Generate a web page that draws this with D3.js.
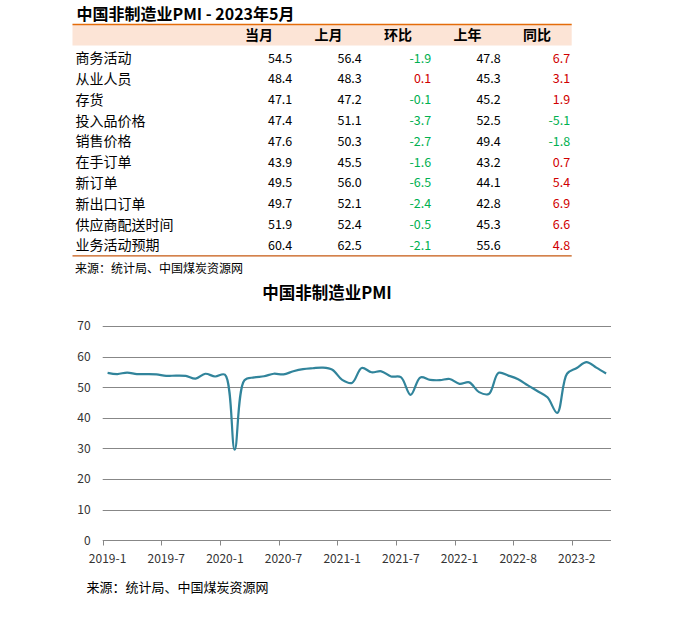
<!DOCTYPE html>
<html>
<head>
<meta charset="utf-8">
<script src="https://cdn.jsdelivr.net/npm/d3@7"></script>
<style>
  body { margin: 0; background: #fff; }
  svg { display: block; }
  text { font-family: "Noto Sans CJK SC", "Noto Sans", sans-serif; }
</style>
</head>
<body>
<svg id="chart"></svg>
<script>
// table data
const rowNames = ["商务活动","从业人员","存货","投入品价格","销售价格","在手订单","新订单","新出口订单","供应商配送时间","业务活动预期"];
const colHeaders = ["当月","上月","环比","上年","同比"];
const curMonth = [54.5,48.4,47.1,47.4,47.6,43.9,49.5,49.7,51.9,60.4];
const lastMonth = [56.4,48.3,47.2,51.1,50.3,45.5,56.0,52.1,52.4,62.5];
const momChange = [-1.9,0.1,-0.1,-3.7,-2.7,-1.6,-6.5,-2.4,-0.5,-2.1];
const lastYear = [47.8,45.3,45.2,52.5,49.4,43.2,44.1,42.8,45.3,55.6];
const yoyChange = [6.7,3.1,1.9,-5.1,-1.8,0.7,5.4,6.9,6.6,4.8];

// line chart data (2022-4 not in the series)
const months = [
  "2019-1","2019-2","2019-3","2019-4","2019-5","2019-6","2019-7","2019-8","2019-9","2019-10","2019-11","2019-12",
  "2020-1","2020-2","2020-3","2020-4","2020-5","2020-6","2020-7","2020-8","2020-9","2020-10","2020-11","2020-12",
  "2021-1","2021-2","2021-3","2021-4","2021-5","2021-6","2021-7","2021-8","2021-9","2021-10","2021-11","2021-12",
  "2022-1","2022-2","2022-3","2022-5","2022-6","2022-7","2022-8","2022-9","2022-10","2022-11","2022-12",
  "2023-1","2023-2","2023-3","2023-4","2023-5"
];
const pmiValues = [
  54.7,54.3,54.8,54.3,54.3,54.2,53.7,53.8,53.7,52.8,54.4,53.5,
  54.1,29.6,52.3,53.2,53.6,54.4,54.2,55.2,55.9,56.2,56.4,55.7,
  52.4,51.4,56.3,54.9,55.2,53.5,53.3,47.5,53.2,52.4,52.3,52.7,
  51.1,51.6,48.4,47.8,54.7,53.8,52.6,50.6,48.7,46.7,41.6,
  54.4,56.3,58.2,56.4,54.5
];
const yTicks = [0,10,20,30,40,50,60,70];

const W = 683, H = 634;
const svg = d3.select("#chart").attr("width", W).attr("height", H);

// ---------- table ----------
const tbl = { left: 72.5, right: 571.7, labelX: 75.5, colStart: 224.3 };

svg.append("text")
  .attr("x", 76.5).attr("y", 20)
  .attr("font-size", 16).attr("font-weight", "bold").attr("fill", "#000")
  .text("中国非制造业PMI - 2023年5月");

svg.append("rect")
  .attr("x", tbl.left).attr("y", 24.5)
  .attr("width", tbl.right - tbl.left).attr("height", 21)
  .attr("fill", "#FCE4D6");

svg.append("line")
  .attr("x1", tbl.left).attr("x2", tbl.right)
  .attr("y1", 24.5).attr("y2", 24.5)
  .attr("stroke", "#E46C0A").attr("stroke-width", 1.3);

const colX = d3.scaleBand().domain(colHeaders).range([tbl.colStart, tbl.right]);
const rowY = d3.scaleBand().domain(rowNames).range([47.9, 255.9]);

svg.append("g").selectAll("text")
  .data(colHeaders).join("text")
  .attr("x", d => colX(d) + colX.bandwidth() / 2)
  .attr("y", 35.5)
  .attr("dy", "0.35em")
  .attr("text-anchor", "middle")
  .attr("font-size", 14).attr("font-weight", "bold").attr("fill", "#000")
  .text(d => d);

svg.append("g").selectAll("text")
  .data(rowNames).join("text")
  .attr("x", tbl.labelX)
  .attr("y", d => rowY(d) + rowY.bandwidth() / 2)
  .attr("dy", "0.35em")
  .attr("font-size", 14).attr("fill", "#000")
  .text(d => d);

const cols = [curMonth, lastMonth, momChange, lastYear, yoyChange];
const signed = [false, false, true, false, true];
const cells = [];
cols.forEach((arr, c) => {
  arr.forEach((v, r) => cells.push({ col: colHeaders[c], row: rowNames[r], v: v, signed: signed[c] }));
});

svg.append("g").selectAll("text")
  .data(cells).join("text")
  .attr("x", d => colX(d.col) + colX.bandwidth() - 1.5)
  .attr("y", d => rowY(d.row) + rowY.bandwidth() / 2)
  .attr("dy", "0.35em")
  .attr("text-anchor", "end")
  .attr("font-family", "'Noto Sans', sans-serif")
  .attr("font-size", 12.5)
  .attr("fill", d => !d.signed ? "#000" : (d.v < 0 ? "#00B050" : "#D00000"))
  .text(d => d.v.toFixed(1));

svg.append("line")
  .attr("x1", tbl.left).attr("x2", tbl.right)
  .attr("y1", 255.9).attr("y2", 255.9)
  .attr("stroke", "#C65911").attr("stroke-width", 1.2);

svg.append("text")
  .attr("x", 75).attr("y", 268.5).attr("dy", "0.35em")
  .attr("font-size", 12).attr("fill", "#000")
  .text("来源：统计局、中国煤炭资源网");

// ---------- line chart ----------
svg.append("text")
  .attr("x", 327).attr("y", 293).attr("dy", "0.35em")
  .attr("text-anchor", "middle")
  .attr("font-size", 16.5).attr("font-weight", "bold").attr("fill", "#000")
  .text("中国非制造业PMI");

const plot = { left: 102.7, right: 611, top: 326, bottom: 540.3 };
const x = d3.scaleBand().domain(months).range([plot.left, plot.right]);
const y = d3.scaleLinear().domain([0, 70]).range([plot.bottom, plot.top]);

svg.append("g").selectAll("line")
  .data(yTicks.filter(t => t > 0)).join("line")
  .attr("x1", plot.left).attr("x2", plot.right)
  .attr("y1", d => Math.round(y(d)) + 0.5).attr("y2", d => Math.round(y(d)) + 0.5)
  .attr("stroke", "#878787").attr("stroke-width", 1);

const yAxis = svg.append("g")
  .attr("transform", `translate(${plot.left},0)`)
  .call(d3.axisLeft(y).tickValues(yTicks).tickSize(0).tickPadding(12));
yAxis.select(".domain").remove();
yAxis.selectAll("text")
  .attr("font-family", "'Noto Sans', sans-serif")
  .attr("font-size", 12).attr("fill", "#333");

// category axis: ticks every 6 categories, at boundaries
const tickIdx = d3.range(0, months.length, 6);
const xAxis = svg.append("g")
  .attr("transform", `translate(0,${Math.round(plot.bottom) + 0.5})`);
xAxis.append("line")
  .attr("x1", plot.left).attr("x2", plot.right)
  .attr("stroke", "#878787");
xAxis.selectAll("line.tk")
  .data(tickIdx).join("line").attr("class", "tk")
  .attr("x1", i => Math.round(x(months[i])) + 0.5)
  .attr("x2", i => Math.round(x(months[i])) + 0.5)
  .attr("y1", 0).attr("y2", 5)
  .attr("stroke", "#878787");
xAxis.selectAll("text")
  .data(tickIdx).join("text")
  .attr("x", i => x(months[i]) + x.bandwidth() / 2)
  .attr("y", 18).attr("dy", "0.35em")
  .attr("text-anchor", "middle")
  .attr("font-family", "'Noto Sans', sans-serif")
  .attr("font-size", 12).attr("fill", "#333")
  .text(i => months[i]);

const line = d3.line()
  .x((d, i) => x(months[i]) + x.bandwidth() / 2)
  .y(d => y(d))
  .curve(d3.curveCatmullRom.alpha(0.5));

svg.append("path")
  .datum(pmiValues)
  .attr("d", line)
  .attr("fill", "none")
  .attr("stroke", "#31849B")
  .attr("stroke-width", 2.2)
  .attr("stroke-linejoin", "round");

svg.append("text")
  .attr("x", 86.5).attr("y", 587.5).attr("dy", "0.35em")
  .attr("font-size", 13).attr("fill", "#000")
  .text("来源：统计局、中国煤炭资源网");
</script>
</body>
</html>
